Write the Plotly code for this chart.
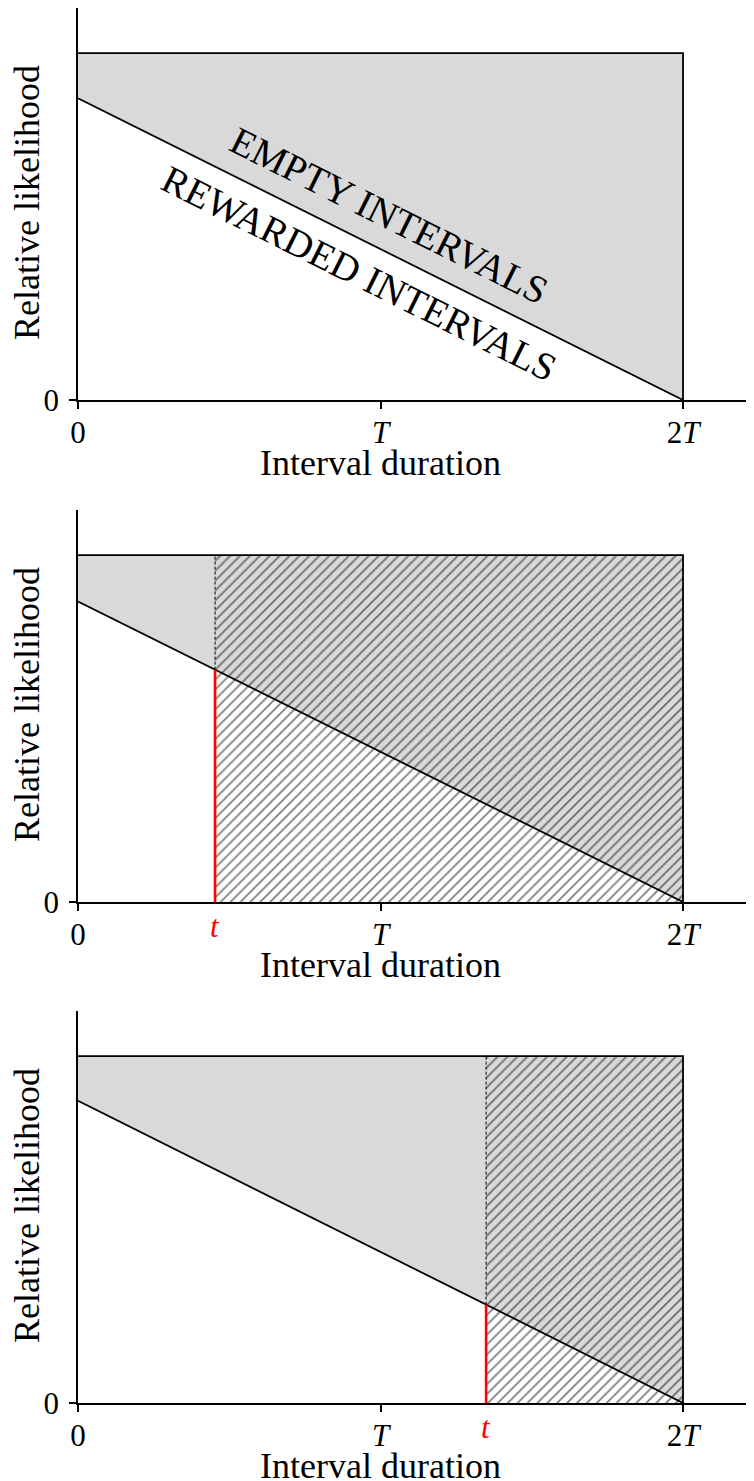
import plotly.graph_objects as go

# ---- data ----
x_tick_vals = [0, 1, 2]
x_tick_text = ["0", "<i>T</i>", "2<i>T</i>"]
y_tick_vals = [0]
y_tick_text = ["0"]
top_level = 1.0                         # total likelihood level (empty + rewarded)
rewarded_start = [0.870, 0.866, 0.871]  # rewarded-interval line value at duration 0
end_duration = 2.0                      # 2T
t_values = [None, 0.453, 1.349]         # current time t in panels 2 and 3
x_max = 2.228
y_max = 1.13

# ---- layout (pixels in the 754x1481 window) ----
W, H = 754, 1481
OFF = 8                       # page body margin
FW, FH = W - OFF, H - OFF     # figure size so it fits the window
axis_zero_px = [400, 902, 1403]
x_left_px, x_right_px = 78, 752
axis_height_px = 392


def px_x(px):
    return (px - OFF) / FW


def px_y(py):
    return 1 - (py - OFF) / FH


FONT = "Liberation Serif"
GRAY = "#d9d9d9"

fig = go.Figure()

for k in range(3):
    xa = "x" if k == 0 else f"x{k+1}"
    ya = "y" if k == 0 else f"y{k+1}"
    r0 = rewarded_start[k]
    # gray region (empty intervals)
    fig.add_trace(go.Scatter(
        x=[0, end_duration, end_duration, 0, 0],
        y=[top_level, top_level, 0, r0, top_level],
        fill="toself", fillcolor=GRAY, line=dict(width=0),
        mode="lines", xaxis=xa, yaxis=ya, hoverinfo="skip", showlegend=False))
    t = t_values[k]
    if t is not None:
        rt = r0 * (1 - t / end_duration)
        # hatched region from t to 2T
        fig.add_trace(go.Scatter(
            x=[t, end_duration, end_duration, t, t],
            y=[0, 0, top_level, top_level, 0],
            fill="toself", fillcolor="rgba(0,0,0,0)",
            fillpattern=dict(shape="/", fgcolor="black", bgcolor="rgba(0,0,0,0)",
                             size=7, solidity=0.25, fillmode="overlay"),
            line=dict(width=0), mode="lines", xaxis=xa, yaxis=ya,
            hoverinfo="skip", showlegend=False))
        # dashed edge in empty region
        fig.add_trace(go.Scatter(
            x=[t, t], y=[rt, top_level], mode="lines",
            line=dict(color="black", width=1, dash="3px,2px"),
            xaxis=xa, yaxis=ya, hoverinfo="skip", showlegend=False))
    # rewarded line
    fig.add_trace(go.Scatter(
        x=[0, end_duration], y=[r0, 0], mode="lines",
        line=dict(color="black", width=1.8), xaxis=xa, yaxis=ya,
        hoverinfo="skip", showlegend=False))
    # top line + right edge
    fig.add_trace(go.Scatter(
        x=[0, end_duration, end_duration], y=[top_level, top_level, 0], mode="lines",
        line=dict(color="black", width=1.8), xaxis=xa, yaxis=ya,
        hoverinfo="skip", showlegend=False))
    if t is not None:
        fig.add_trace(go.Scatter(
            x=[t, t], y=[0, rt], mode="lines",
            line=dict(color="red", width=2.6), xaxis=xa, yaxis=ya,
            hoverinfo="skip", showlegend=False))
        fig.add_annotation(x=t, y=0, xref=xa, yref=ya, text="<i>t</i>",
                           showarrow=False, yanchor="middle", xanchor="center",
                           yshift=-24, font=dict(family=FONT, size=31, color="red"))

    z = axis_zero_px[k]
    dom_y = [px_y(z), px_y(z - axis_height_px)]
    axis_common = dict(showgrid=False, zeroline=False, showline=True,
                       automargin=False,
                       linecolor="black", linewidth=1.8, ticks="outside",
                       ticklen=7, tickwidth=1.5, tickcolor="black",
                       tickfont=dict(family=FONT, size=31, color="black"))
    fig.update_layout(**{
        ("xaxis" if k == 0 else f"xaxis{k+1}"): dict(
            domain=[px_x(x_left_px), px_x(x_right_px)], range=[0, x_max],
            anchor=ya, tickvals=x_tick_vals, ticktext=x_tick_text,
            ticklabelstandoff=-3, **axis_common),
        ("yaxis" if k == 0 else f"yaxis{k+1}"): dict(
            domain=dom_y, range=[0, y_max], anchor=xa, ticklabelstandoff=4,
            tickvals=y_tick_vals, ticktext=y_tick_text, **axis_common),
    })
    # axis titles
    fig.add_annotation(x=px_x(380), y=px_y(z + 63),
                       xref="paper", yref="paper", text="Interval duration",
                       showarrow=False, xanchor="center", yanchor="middle",
                       font=dict(family=FONT, size=36, color="black"))
    fig.add_annotation(x=px_x(27), y=px_y(z - 197),
                       xref="paper", yref="paper", text="Relative likelihood",
                       showarrow=False, xanchor="center", yanchor="middle",
                       textangle=-90,
                       font=dict(family=FONT, size=36, color="black"))

# region labels in first panel
fig.add_annotation(x=1.031, y=0.533, xref="x", yref="y", text="EMPTY INTERVALS",
                   showarrow=False, textangle=26.5,
                   font=dict(family=FONT, size=39, color="black"))
fig.add_annotation(x=0.932, y=0.366, xref="x", yref="y", text="REWARDED INTERVALS",
                   showarrow=False, textangle=26.5,
                   font=dict(family=FONT, size=39, color="black"))

fig.update_layout(width=FW, height=FH, margin=dict(l=0, r=0, t=0, b=0),
                  plot_bgcolor="white", paper_bgcolor="white", showlegend=False)

fig.write_html("out.html")
